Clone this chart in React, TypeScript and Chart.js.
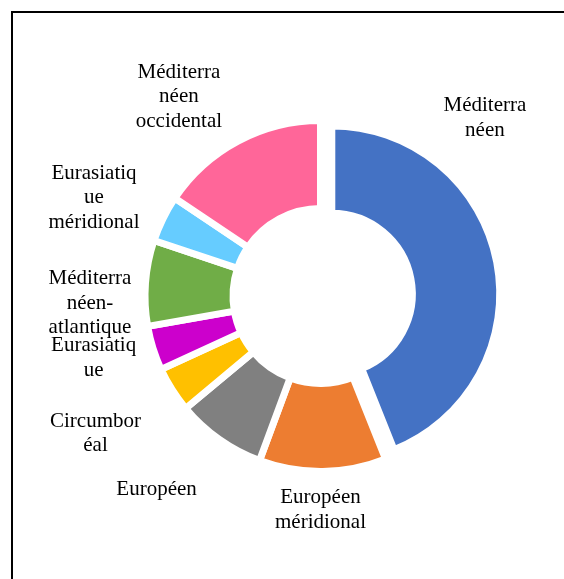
import React, { useEffect, useRef } from "react";
import { Chart, registerables } from "chart.js";

Chart.register(...registerables);

// Categories (clockwise from 12 o'clock)
const CATEGORIES = [
  "Méditerranéen",
  "Européen méridional",
  "Européen",
  "Circumboréal",
  "Eurasiatique",
  "Méditerranéen-atlantique",
  "Eurasiatique méridional",
  "Méditerranéen occidental",
];

// Share of each chorological type (%)
const VALUES = [44.0, 11.7, 8.3, 4.2, 4.1, 7.9, 4.3, 15.6];

// Label text as wrapped in the reference
const LABEL_LINES = [
  ["Méditerra", "néen"],
  ["Européen", "méridional"],
  ["Européen"],
  ["Circumbor", "éal"],
  ["Eurasiatiq", "ue"],
  ["Méditerra", "néen-", "atlantique"],
  ["Eurasiatiq", "ue", "méridional"],
  ["Méditerra", "néen", "occidental"],
];

const COLORS = [
  "#4472C4",
  "#ED7D31",
  "#808080",
  "#FFC000",
  "#CC00CC",
  "#70AD47",
  "#66CCFF",
  "#FF6699",
];

// Label block centres relative to the doughnut centre, in units of the outer radius
const LABEL_POS = [
  [0.956, -1.044],
  [0.0, 1.235],
  [-0.953, 1.116],
  [-1.308, 0.792],
  [-1.319, 0.353],
  [-1.34, 0.034],
  [-1.317, -0.581],
  [-0.823, -1.166],
];

const BORDER = 7;
const OUTER = 172 + BORDER / 2;
const INNER = 91 - BORDER / 2;

const explodePlugin = {
  id: "explodeSlice",
  afterDatasetUpdate(chart: any, args: any, opts: any) {
    const arc = args.meta.data[opts.index];
    if (!arc) return;
    const mid = (arc.startAngle + arc.endAngle) / 2;
    arc.x += Math.cos(mid) * opts.distance;
    arc.y += Math.sin(mid) * opts.distance;
    arc.outerRadius *= opts.outerScale;
    arc.innerRadius *= opts.innerScale;
  },
};

const labelPlugin = {
  id: "outerLabels",
  afterDatasetsDraw(chart: any, _args: any, opts: any) {
    const meta = chart.getDatasetMeta(0);
    const ctrl: any = meta.controller;
    const area = chart.chartArea;
    const cx = (area.left + area.right) / 2;
    const cy = (area.top + area.bottom) / 2;
    const R = ctrl.outerRadius - BORDER / 2;
    const ctx = chart.ctx;
    ctx.save();
    ctx.font = opts.font;
    ctx.fillStyle = opts.color;
    ctx.textAlign = "center";
    ctx.textBaseline = "alphabetic";
    const lh = opts.lineHeight;
    LABEL_LINES.forEach((lines, i) => {
      const [fx, fy] = LABEL_POS[i];
      const bx = cx + fx * R;
      const by = cy + fy * R;
      const first = by + 7 - ((lines.length - 1) * lh) / 2;
      lines.forEach((t, j) => ctx.fillText(t, bx, first + j * lh));
    });
    ctx.restore();
  },
};

export default function App() {
  const ref = useRef<HTMLCanvasElement | null>(null);

  useEffect(() => {
    document.documentElement.style.overflow = "hidden";
    const canvas = ref.current;
    if (!canvas) return;
    const chart = new Chart(canvas, {
      type: "doughnut",
      data: {
        labels: CATEGORIES,
        datasets: [
          {
            data: VALUES,
            backgroundColor: COLORS,
            borderColor: "#FFFFFF",
            borderWidth: BORDER,
            borderAlign: "center",
          },
        ],
      },
      options: {
        responsive: false,
        maintainAspectRatio: false,
        animation: false,
        radius: OUTER,
        cutout: (INNER / OUTER) * 100 + "%",
        layout: { padding: { left: 77, right: 0, top: 13, bottom: 0 } },
        plugins: {
          legend: { display: false },
          tooltip: { enabled: false },
          explodeSlice: { index: 0, distance: 11.5, outerScale: 0.957, innerScale: 0.92 },
          outerLabels: { font: '21px "Liberation Serif", "Times New Roman", serif', color: "#000000", lineHeight: 24.5 },
        } as any,
      } as any,
      plugins: [explodePlugin, labelPlugin],
    });
    return () => chart.destroy();
  }, []);

  return (
    <>
      <div
        style={{
          position: "fixed",
          left: 11,
          top: 11,
          width: 620,
          height: 620,
          border: "2px solid #000",
          boxSizing: "border-box",
          pointerEvents: "none",
        }}
      />
      <canvas
        ref={ref}
        width={564}
        height={579}
        style={{ position: "fixed", left: 0, top: 0, width: 564, height: 579, display: "block" }}
      />
    </>
  );
}
